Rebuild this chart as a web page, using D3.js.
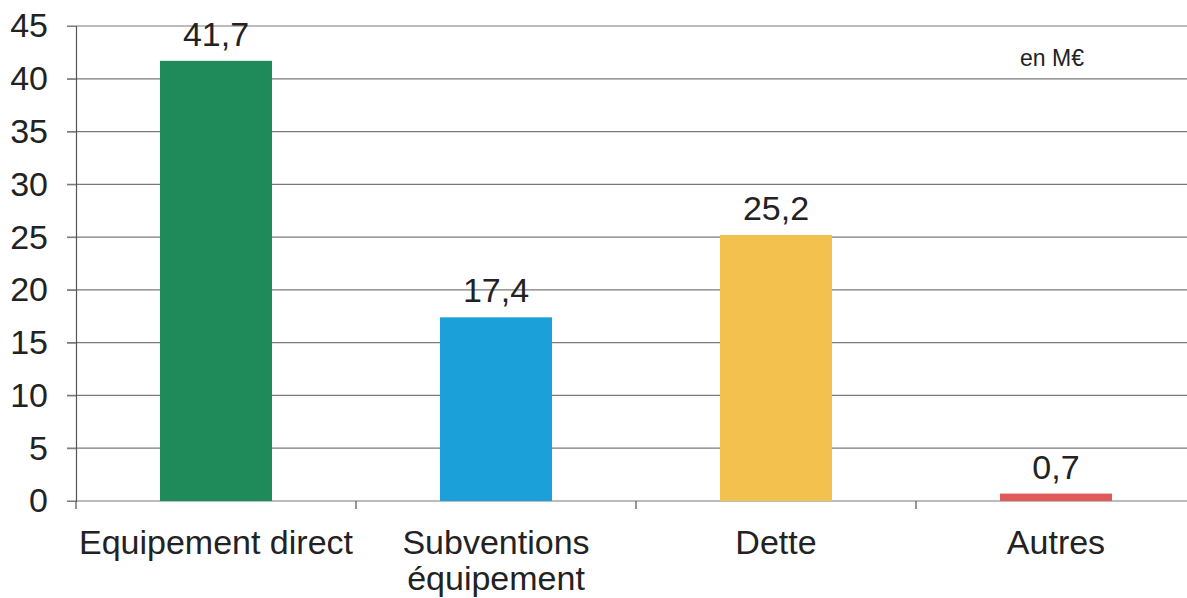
<!DOCTYPE html>
<html lang="fr">
<head>
  <meta charset="UTF-8">
  <script src="https://cdn.jsdelivr.net/npm/d3@7"></script>
  <title>Dépenses</title>
  <style>
    body { margin: 0; background: #fff; }
    text { font-family: "Liberation Sans", Arial, sans-serif; fill: #222; }
  </style>
</head>
<body>
  <script>
    const categories = ['Equipement direct', 'Subventions\néquipement', 'Dette', 'Autres']
    const values = [41.7, 17.4, 25.2, 0.7]
    const valueLabels = ['41,7', '17,4', '25,2', '0,7']
    const colors = ['#1f8b5a', '#1ca0da', '#f2c14e', '#e05a5a']
    const yTicks = [0, 5, 10, 15, 20, 25, 30, 35, 40, 45]

    const width = 1187, height = 598
    const margin = ({top: 26, right: -9, bottom: 97, left: 76})

    const svg = d3.select('body').append('svg')
        .attr('width', width)
        .attr('height', height)

    const x = d3.scaleBand()
        .domain(categories)
        .range([margin.left, width - margin.right])
        .paddingInner(0.6)
        .paddingOuter(0.3)

    const y = d3.scaleLinear()
        .domain([0, 45])
        .range([height - margin.bottom, margin.top])

    // gridlines
    svg.append('g')
      .selectAll('line')
      .data(yTicks)
      .join('line')
        .attr('x1', margin.left - 9)
        .attr('x2', width)
        .attr('y1', d => y(d))
        .attr('y2', d => y(d))
        .attr('stroke', '#7a7a7a')
        .attr('stroke-width', 1.2)

    // y axis
    const yAxis = svg.append('g')
        .attr('transform', `translate(${margin.left},0)`)
        .call(d3.axisLeft(y).tickValues(yTicks).tickSize(9).tickPadding(19))
    yAxis.select('.domain').attr('stroke', '#555').attr('stroke-width', 1.2)
    yAxis.selectAll('.tick line').attr('stroke', '#7a7a7a')
    yAxis.selectAll('text').attr('font-size', 34).attr('fill', '#222')

    // x axis ticks at band edges
    const step = x.step()
    const edges = categories.map((c, i) => margin.left + i * step).concat([margin.left + categories.length * step])
    svg.append('g')
      .selectAll('line')
      .data(edges)
      .join('line')
        .attr('x1', d => d)
        .attr('x2', d => d)
        .attr('y1', y(0))
        .attr('y2', y(0) + 8)
        .attr('stroke', '#555')
        .attr('stroke-width', 1.2)

    // bars
    svg.append('g')
      .selectAll('rect')
      .data(values)
      .join('rect')
        .attr('x', (d, i) => x(categories[i]))
        .attr('y', d => y(d))
        .attr('width', x.bandwidth())
        .attr('height', d => y(0) - y(d))
        .attr('fill', (d, i) => colors[i])

    // value labels
    svg.append('g')
      .selectAll('text')
      .data(values)
      .join('text')
        .attr('x', (d, i) => x(categories[i]) + x.bandwidth() / 2)
        .attr('y', d => y(d) - 15)
        .attr('text-anchor', 'middle')
        .attr('font-size', 34)
        .text((d, i) => valueLabels[i])

    // category labels
    svg.append('g')
      .selectAll('text')
      .data(categories)
      .join('text')
        .attr('x', d => x(d) + x.bandwidth() / 2)
        .attr('y', y(0) + 53)
        .attr('text-anchor', 'middle')
        .attr('font-size', 34)
      .selectAll('tspan')
      .data(d => d.split('\n'))
      .join('tspan')
        .attr('x', function() { return this.parentNode.getAttribute('x') })
        .attr('dy', (d, i) => i === 0 ? 0 : 36)
        .text(d => d)

    svg.append('text')
        .attr('x', 1052)
        .attr('y', 66)
        .attr('text-anchor', 'middle')
        .attr('font-size', 23)
        .text('en M€')
  </script>
</body>
</html>
